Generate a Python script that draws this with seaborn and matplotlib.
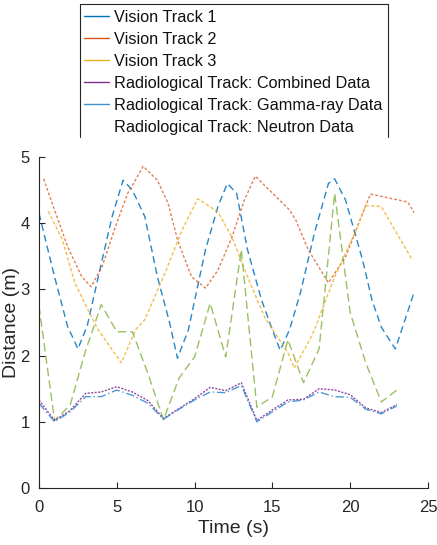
import matplotlib
matplotlib.use("Agg")
import matplotlib.pyplot as plt
from matplotlib.lines import Line2D
import seaborn as sns

# ---- data ----
vt1_t = [0, 1, 1.85, 2.2, 2.5, 3.1, 4.05, 4.7, 5.4, 6.0, 6.8, 7.6, 8.4, 8.9, 9.6, 10.7, 11.5, 12.1,
         12.7, 13.4, 14.3, 15.0, 15.5, 16.1, 16.8, 17.7, 18.6, 19.0, 19.7, 20.8, 21.4, 22.0, 22.9, 24.1]
vt1_d = [4.15, 3.19, 2.43, 2.26, 2.1, 2.45, 3.44, 4.1, 4.65, 4.5, 4.1, 3.2, 2.49, 1.96, 2.39, 3.6, 4.25, 4.6,
         4.45, 3.6, 2.84, 2.39, 2.08, 2.39, 2.95, 3.85, 4.6, 4.67, 4.35, 3.44, 2.84, 2.43, 2.1, 2.95]

vt2_t = [0.3, 1.0, 1.85, 2.75, 3.35, 4.05, 4.9, 5.7, 6.7, 7.6, 8.3, 8.9, 9.8, 10.7, 11.5, 12.4, 13.2, 13.9,
         16.1, 16.5, 17.3, 18.6, 19.7, 20.8, 21.3, 23.7, 24.1]
vt2_d = [4.67, 4.2, 3.64, 3.19, 3.04, 3.34, 3.94, 4.45, 4.86, 4.65, 4.3, 3.75, 3.19, 3.02, 3.29, 3.79, 4.35, 4.71,
         4.2, 4.05, 3.6, 3.1, 3.49, 4.15, 4.44, 4.32, 4.16]

vt3_t = [0.6, 1.5, 2.3, 3.15, 3.8, 5.3, 6.2, 6.8, 8.1, 9.2, 10.2, 11.5, 12.4, 13.4, 14.5, 16.0, 16.4,
         17.4, 17.7, 19.0, 20.3, 21.0, 22.0, 24.0]
vt3_d = [4.18, 3.75, 3.1, 2.69, 2.39, 1.89, 2.39, 2.54, 3.25, 3.9, 4.37, 4.17, 3.79, 3.19, 2.58, 2.04, 1.81,
         2.24, 2.39, 3.19, 3.85, 4.27, 4.25, 3.44]

rad_t = list(range(0, 24))
comb_d = [1.33, 1.02, 1.17, 1.43, 1.45, 1.53, 1.45, 1.32, 1.05, 1.2, 1.35, 1.52, 1.47, 1.59, 1.02, 1.18,
          1.33, 1.34, 1.5, 1.48, 1.41, 1.21, 1.14, 1.26]
gamma_d = [1.28, 1.0, 1.15, 1.38, 1.38, 1.48, 1.4, 1.28, 1.04, 1.19, 1.33, 1.45, 1.44, 1.55, 1.0, 1.15,
           1.3, 1.33, 1.45, 1.38, 1.37, 1.19, 1.12, 1.24]
neut_d = [2.75, 1.02, 1.25, 2.08, 2.77, 2.36, 2.36, 1.73, 1.03, 1.66, 1.98, 2.79, 1.98, 3.6, 1.22, 1.38,
          2.24, 1.59, 2.1, 4.45, 2.65, 1.89, 1.3, 1.48]

labels = ["Vision Track 1", "Vision Track 2", "Vision Track 3",
          "Radiological Track: Combined Data", "Radiological Track: Gamma-ray Data",
          "Radiological Track: Neutron Data"]

# ---- style ----
sns.set_theme(style="ticks")
plt.rcParams['font.family'] = ['Liberation Sans', 'DejaVu Sans']
plt.rcParams['xtick.direction'] = 'in'
plt.rcParams['ytick.direction'] = 'in'

c_blue = "#0072BD"
c_orange = "#D95319"
c_yellow = "#EDB120"
c_purple = "#7E2F8E"
c_lblue = "#3D8FD0"
c_green = "#77AC30"
c_axis = "#262626"

fig = plt.figure(figsize=(4.37, 5.45), dpi=100)
ax = fig.add_axes([39/437, 1-488/545, (428-39)/437, (488-157)/545])

lw = 1.0
sns.lineplot(x=vt1_t, y=vt1_d, ax=ax, color=c_blue, lw=lw, linestyle=(0, (5, 3)), alpha=0.85)
sns.lineplot(x=vt2_t, y=vt2_d, ax=ax, color=c_orange, lw=lw, linestyle=(0, (2, 1.5)), alpha=0.75)
sns.lineplot(x=vt3_t, y=vt3_d, ax=ax, color=c_yellow, lw=lw, linestyle=(0, (2.5, 1.5)), alpha=0.8)
sns.lineplot(x=rad_t, y=neut_d, ax=ax, color=c_green, lw=lw, linestyle=(0, (6, 3)), alpha=0.75)
sns.lineplot(x=rad_t, y=comb_d, ax=ax, color=c_purple, lw=lw, linestyle=(0, (1.5, 1)), alpha=0.85)
sns.lineplot(x=rad_t, y=gamma_d, ax=ax, color=c_lblue, lw=lw, linestyle=(0, (6, 2, 1, 2)), alpha=0.9)

ax.set_xlim(0, 25)
ax.set_ylim(0, 5)
ax.set_xticks([0, 5, 10, 15, 20, 25])
ax.set_yticks([0, 1, 2, 3, 4, 5])
ax.tick_params(axis='both', labelsize=12, length=4, width=0.8, color=c_axis, labelcolor=c_axis)
ax.tick_params(axis='x', pad=9)
ax.tick_params(axis='y', pad=6.5)
for s in ['top', 'right']:
    ax.spines[s].set_visible(False)
for s in ['left', 'bottom']:
    ax.spines[s].set_linewidth(0.8)
    ax.spines[s].set_color(c_axis)
ax.set_xlabel("Time (s)", fontsize=14, color=c_axis)
ax.set_ylabel("Distance (m)", fontsize=14, color=c_axis)
ax.xaxis.set_label_coords((233 - 39) / 389, (488 - 520) / 331)
ax.yaxis.set_label_coords((20 - 39) / 389, 0.5)

handles = [Line2D([], [], color=c_blue, lw=1),
           Line2D([], [], color=c_orange, lw=1),
           Line2D([], [], color=c_yellow, lw=1),
           Line2D([], [], color=c_purple, lw=1),
           Line2D([], [], color=c_lblue, lw=1),
           Line2D([], [], color='none', lw=1)]
leg = fig.legend(handles, labels, loc='upper left', bbox_to_anchor=(84/437, 1-10/545),
                 frameon=False, fontsize=11.7, labelspacing=0.43, handlelength=1.54,
                 handletextpad=0.31, borderpad=0.0, borderaxespad=0)
for t in leg.get_texts():
    t.set_color('#111111')

# legend box without bottom edge
x0, x1 = 80/437, 388/437
y0, y1 = 1-137/545, 1-4/545
fig.add_artist(Line2D([x0, x0, x1, x1], [y0, y1, y1, y0], transform=fig.transFigure,
                      color=c_axis, lw=0.8))

fig.savefig("out.png", dpi=100)
